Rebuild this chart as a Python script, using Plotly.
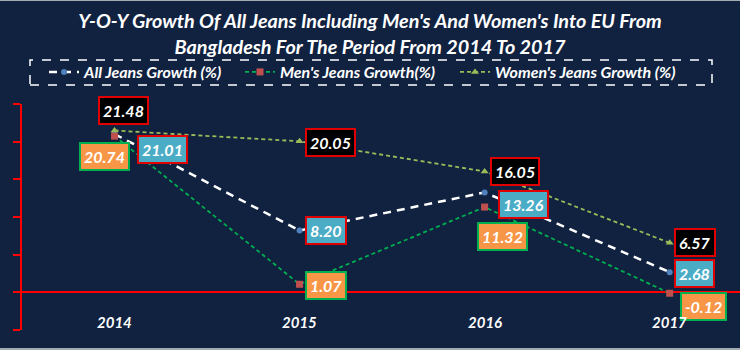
import plotly.graph_objects as go

# Category axis and series values
years = ["2014", "2015", "2016", "2017"]
all_jeans = [21.01, 8.20, 13.26, 2.68]
mens_jeans = [20.74, 1.07, 11.32, -0.12]
womens_jeans = [21.48, 20.05, 16.05, 6.57]
y_ticks = [-5, 0, 5, 10, 15, 20, 25]

BG = "#112240"
FONT = "Lato"

fig = go.Figure()

fig.add_trace(go.Scatter(
    x=years, y=all_jeans, name="All Jeans Growth (%)", mode="lines+markers",
    line=dict(color="#ffffff", width=2.5, dash="8px,6px"),
    marker=dict(symbol="circle", size=6, color="#4f81bd"),
    legend="legend", showlegend=True,
))
fig.add_trace(go.Scatter(
    x=years, y=mens_jeans, name="Men's Jeans Growth(%)", mode="lines+markers",
    line=dict(color="#00b050", width=1.8, dash="4px,3px"),
    marker=dict(symbol="square", size=7, color="#c0504d"),
    legend="legend2", showlegend=True,
))
fig.add_trace(go.Scatter(
    x=years, y=womens_jeans, name="Women's Jeans Growth (%)", mode="lines+markers",
    line=dict(color="#9bbb59", width=1.8, dash="4px,3px"),
    marker=dict(symbol="triangle-up", size=7, color="#9bbb59"),
    legend="legend3", showlegend=True,
))

annotations = []

# Value labels: (series, background, border, pixel offsets per point)
label_styles = [
    (womens_jeans, "#000000", "#e00000", [(9, 20), (31, -1), (30, 0), (25, 0)]),
    (all_jeans, "#4bacc6", "#e00000", [(48, -15), (26, 0), (39, -12), (25, -1)]),
    (mens_jeans, "#f79646", "#00b050", [(-10, -20), (26, -1), (18, -29), (34, -13)]),
]
for values, bg, border, offsets in label_styles:
    for i, (v, (dx, dy)) in enumerate(zip(values, offsets)):
        annotations.append(dict(
            x=i, y=v, xref="x", yref="y", text=f"<b><i>{v:.2f}</i></b>",
            showarrow=False, xshift=dx, yshift=dy,
            bgcolor=bg, bordercolor=border, borderwidth=2, borderpad=3,
            font=dict(family=FONT, size=16, color="#ffffff"),
        ))

# Category labels sit just above the lower edge of the plot
for i, yr in enumerate(years):
    annotations.append(dict(
        x=i, y=0.035, xref="x", yref="paper", text=f"<b><i>{yr}</i></b>",
        showarrow=False, yanchor="middle",
        font=dict(family=FONT, size=15, color="#ffffff"),
    ))

# Dashed frame around the legends
fig.add_shape(
    type="rect", xref="paper", yref="paper",
    x0=(30 - 22) / 718, x1=(712 - 22) / 718,
    y0=(330 - 85) / 226, y1=(330 - 60) / 226,
    line=dict(color="#ffffff", width=1.5, dash="dash"),
)
# Thin grey edges along the top and bottom of the canvas
for top, bottom in [(0, 1), (348, 350)]:
    fig.add_shape(
        type="rect", xref="paper", yref="paper",
        x0=-22 / 718, x1=1,
        y0=(330 - bottom) / 226, y1=(330 - top) / 226,
        line=dict(width=0), fillcolor="#a4aab2", layer="above",
    )

legend_font = dict(family=FONT, size=16, color="#ffffff", weight="bold", style="italic")
legend_base = dict(
    orientation="h", xref="container", yref="container",
    xanchor="left", y=1 - 72 / 350, yanchor="middle",
    bgcolor="rgba(0,0,0,0)", font=legend_font, visible=True,
)

fig.update_layout(
    width=740, height=350,
    paper_bgcolor=BG, plot_bgcolor=BG,
    margin=dict(l=22, r=0, t=104, b=20, autoexpand=False),
    title=dict(
        text="<b><i>Y-O-Y Growth Of All Jeans Including Men's And Women's Into EU From<br>"
             "Bangladesh For The Period From 2014 To 2017</i></b>",
        x=0.5, xref="container", xanchor="center",
        y=1 - 28 / 350, yref="container", yanchor="top",
        font=dict(family=FONT, size=19.8, color="#ffffff"),
    ),
    showlegend=True,
    legend=dict(legend_base, x=44 / 740),
    legend2=dict(legend_base, x=240 / 740),
    legend3=dict(legend_base, x=455 / 740),
    annotations=annotations,
)

fig.update_xaxes(
    type="category", range=[-0.5, 3.38], showgrid=False, zeroline=False,
    showline=False, showticklabels=False, ticks="",
)
fig.update_yaxes(
    range=[-5, 25], tickvals=y_ticks, showgrid=False,
    zeroline=True, zerolinecolor="#ff0000", zerolinewidth=2,
    showline=True, linecolor="#ff0000", linewidth=2,
    ticks="outside", ticklen=7, tickwidth=2, tickcolor="#ff0000",
    ticklabelstandoff=12,
    tickfont=dict(family=FONT, size=12, color="#ffffff"),
)

fig.write_html("out.html")
